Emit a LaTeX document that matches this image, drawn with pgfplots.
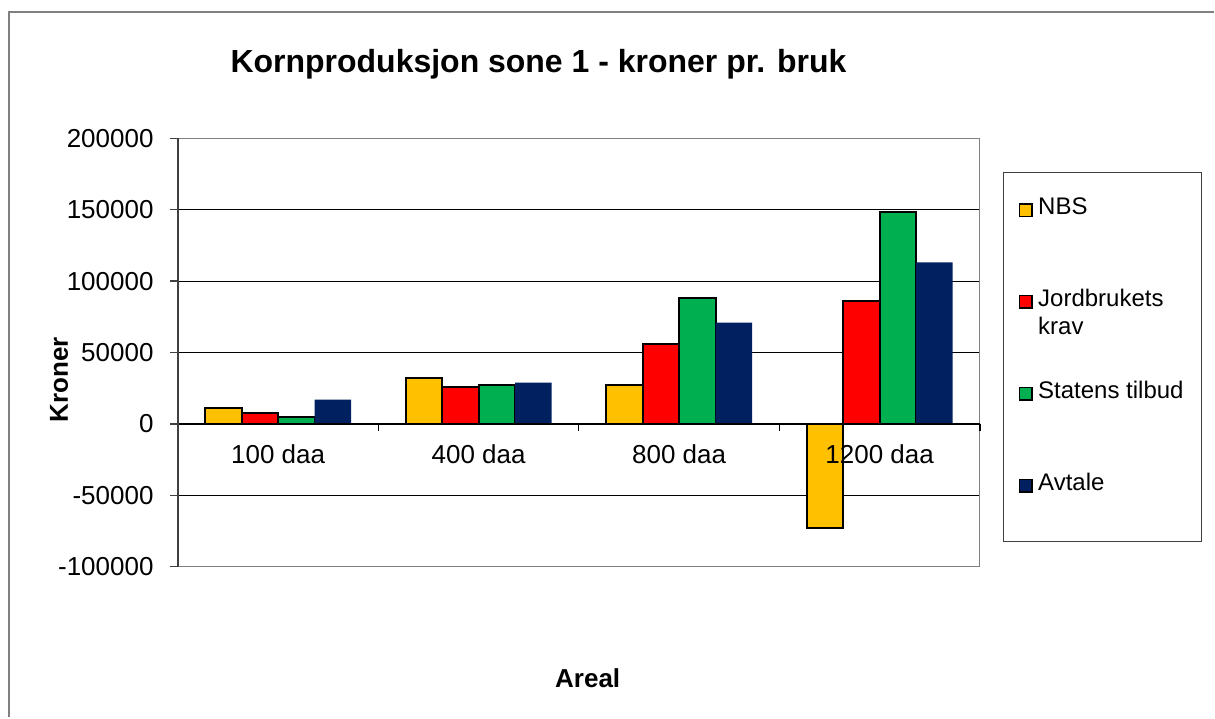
\documentclass[border=0pt]{standalone}
\usepackage{fontspec}
\setmainfont{Liberation Sans}
\usepackage{pgfplots}
\pgfplotsset{compat=1.18}
\definecolor{cNBS}{HTML}{FFC000}
\definecolor{cJord}{HTML}{FF0000}
\definecolor{cStat}{HTML}{00B050}
\definecolor{cAvt}{HTML}{002060}
\definecolor{frame}{HTML}{808080}
\definecolor{yline}{HTML}{404040}
\pgfplotsset{
  layers/gridbelow/.define layer set={axis background,axis grid,pre main,main,axis ticks,axis lines,axis tick labels,axis descriptions,axis foreground}{/pgfplots/layers/standard},
}
\begin{document}
\begin{tikzpicture}
\path (0,0) rectangle (607.5pt,359pt);
\draw[color=frame, line width=1pt] (4.5pt,0pt) -- (4.5pt,353pt) -- (607.5pt,353pt);
\begin{axis}[
  set layers=gridbelow,
  at={(89pt,75.35pt)}, anchor=south west,
  scale only axis, width=401.35pt, height=214.5pt,
  ybar=0pt, bar width=18.25pt,
  xmin=-0.5, xmax=3.5, ymin=-100000, ymax=200000,
  ytick={-100000,-50000,0,50000,100000,150000,200000},
  yticklabels={-100000,-50000,0,50000,100000,150000,200000},
  xtick={0,1,2,3}, xticklabels={100 daa,400 daa,800 daa,1200 daa},
  minor xtick={-0.5,0.5,1.5,2.5,3.5},
  axis x line*=middle, axis y line*=left,
  x axis line style={black, line width=0.75pt},
  y axis line style={yline, line width=1pt},
  tick align=outside,
  major tick length=4pt, minor tick length=3.5pt,
  major x tick style={draw=none},
  minor x tick style={black, line width=0.6pt},
  major y tick style={yline, line width=0.6pt},
  ymajorgrids, y grid style={black, line width=0.5pt},
  scaled y ticks=false,
  tick label style={font=\fontsize{13}{15}\selectfont},
  yticklabel style={anchor=east, inner sep=0pt, xshift=-8pt},
  xticklabel style={anchor=base, inner sep=0pt, yshift=-15.85pt},
  title={Kornproduksjon sone 1 - kroner pr. bruk},
  every axis title/.style={at={(axis description cs:0.4497,1.1529)}, anchor=base, font=\fontsize{16}{19}\selectfont\bfseries},
  xlabel={Areal},
  every axis x label/.style={at={(axis description cs:0.511,-0.2814)}, anchor=base, font=\fontsize{13}{15}\selectfont\bfseries},
  ylabel={Kroner},
  every axis y label/.style={at={(axis description cs:-0.137,0.4366)}, rotate=90, anchor=base, font=\fontsize{13}{15}\selectfont\bfseries},
  legend style={at={(axis description cs:1.029,0.9214)}, anchor=north west,
    draw=yline, line width=0.6pt, inner xsep=7.5pt, inner ysep=11.5pt,
    row sep=22.5pt, column sep=2.65pt,
    nodes={inner sep=0pt, text height=9.5pt, text depth=14pt, font=\fontsize{12}{14}\selectfont}},
  legend cell align=left,
  legend image code/.code={\draw[#1, line width=0.8pt] (0pt,1.3pt) rectangle (6.3pt,7.6pt);},
]
\draw[color=frame, line width=1pt] (rel axis cs:0,0) rectangle (rel axis cs:1,1);
\addplot[fill=cNBS, draw=black, line width=1pt] coordinates {(0,11000) (1,32000) (2,27000) (3,-73000)};
\addlegendentry{\parbox[t]{74pt}{NBS}}
\addplot[fill=cJord, draw=black, line width=1pt] coordinates {(0,8000) (1,26000) (2,56000) (3,86000)};
\addlegendentry{\parbox[t]{74pt}{\raggedright Jordbrukets\newline krav}}
\addplot[fill=cStat, draw=black, line width=1pt] coordinates {(0,5000) (1,27000) (2,88000) (3,148000)};
\addlegendentry{\parbox[t]{74pt}{Statens tilbud}}
\addplot[fill=cAvt, draw=none] coordinates {(0,17000) (1,29000) (2,71000) (3,113000)};
\addlegendentry{\parbox[t]{74pt}{Avtale}}
\end{axis}
\end{tikzpicture}
\end{document}
